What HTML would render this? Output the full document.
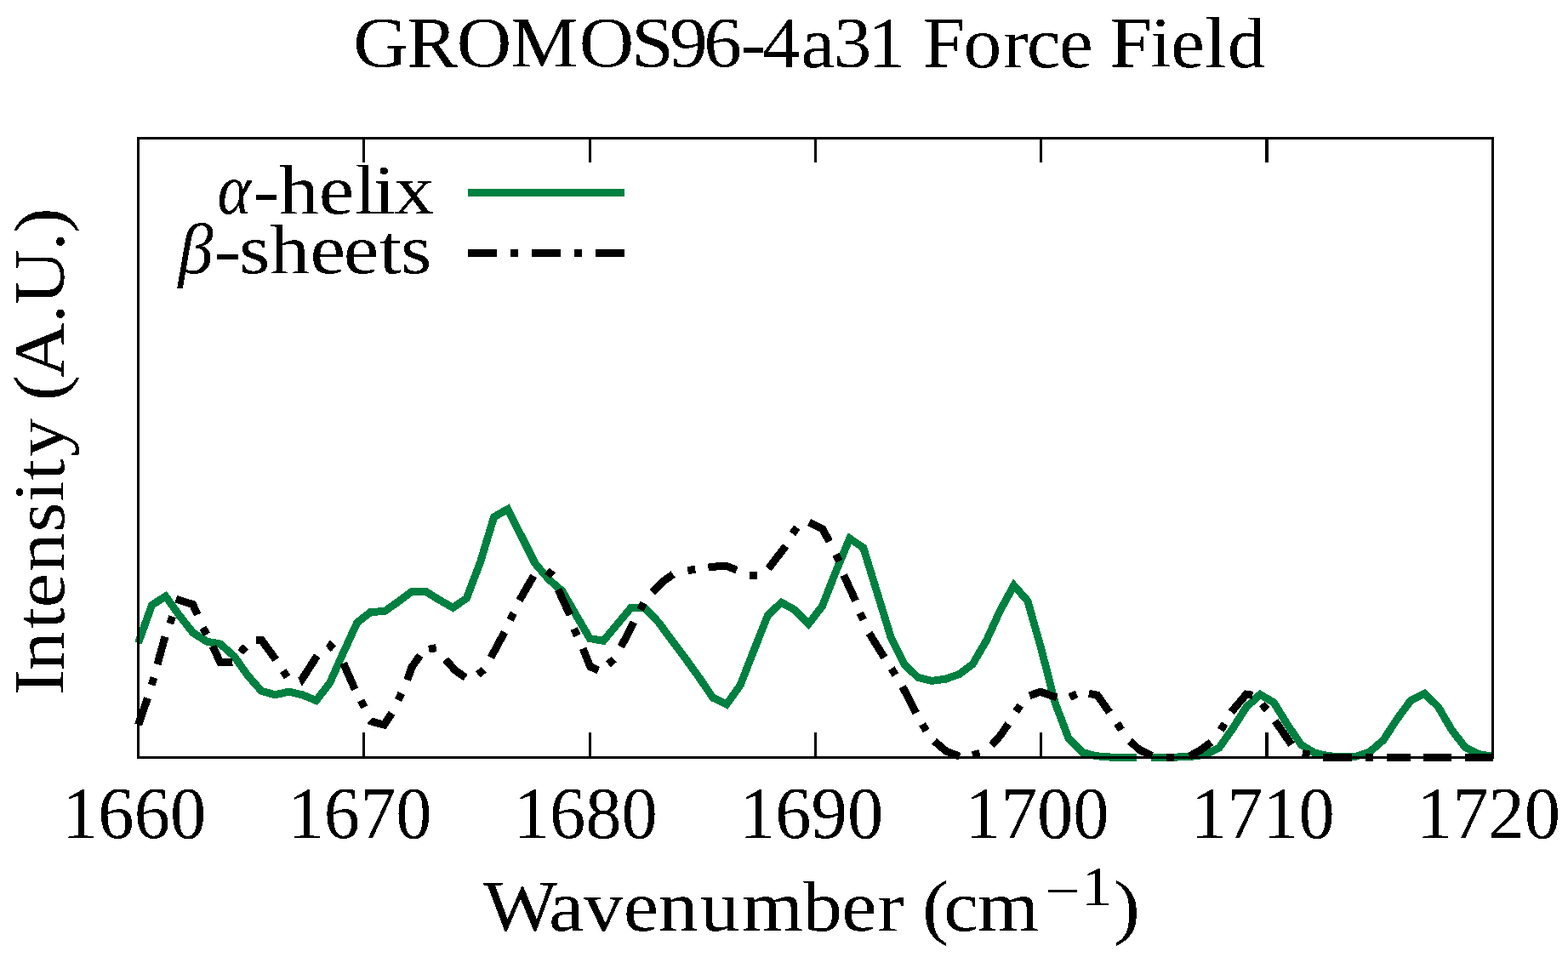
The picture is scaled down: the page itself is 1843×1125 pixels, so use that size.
<!DOCTYPE html>
<html lang="en"><head><meta charset="utf-8"><title>GROMOS96-4a31 Force Field</title>
<style>
html,body{margin:0;padding:0;background:#fff;}
body{width:1843px;height:1125px;}
svg{display:block;}
text{font-family:"Liberation Serif","DejaVu Serif",serif;fill:#000;font-kerning:none;white-space:pre;}
</style></head><body>
<svg width="1843" height="1125" viewBox="0 0 1843 1125">
<defs><filter id="crisp" x="-5%" y="-20%" width="110%" height="140%" color-interpolation-filters="sRGB"><feComponentTransfer><feFuncA type="discrete" tableValues="0 1"/></feComponentTransfer></filter></defs>
<rect x="0" y="0" width="1843" height="1125" fill="#fff"/>
<g id="title" filter="url(#crisp)">
<text transform="scale(1.0519,1)" x="394.84 454.77 510.20 570.48 647.19 705.71 748.27 786.46 827.39 851.73 895.11 931.38 969.79 1012.29 1031.21 1076.59 1120.86 1147.26 1183.51 1221.24 1239.89 1285.60 1308.33 1346.52 1371.67" y="79.50" font-size="85.00">GROMOS96-4a31 Force Field</text>
</g>
<g id="curves" fill="none" shape-rendering="crispEdges" stroke-linecap="butt" stroke-linejoin="miter" stroke-miterlimit="10">
<polyline points="162.5,755.9 178.6,711.2 194.7,701.0 210.7,723.4 226.8,743.8 242.9,754.1 259.0,757.1 275.1,771.4 291.1,794.0 307.2,812.3 323.3,816.8 339.4,813.2 355.5,816.8 371.6,823.6 387.6,802.9 403.7,766.9 419.8,731.9 435.9,719.3 452.0,718.7 468.0,707.4 484.1,695.2 500.2,695.2 516.3,705.2 532.4,714.4 548.4,703.3 564.5,661.0 580.6,607.7 596.7,598.6 612.8,630.1 628.8,662.1 644.9,681.0 661.0,695.0 677.1,723.0 693.2,750.5 709.2,753.4 725.3,734.0 741.4,714.8 757.5,714.6 773.6,731.0 789.7,752.8 805.7,774.1 821.8,796.5 837.9,820.2 854.0,828.0 870.1,805.5 886.1,764.5 902.2,724.0 918.3,708.2 934.4,717.1 950.5,733.3 966.5,712.5 982.6,671.5 998.7,633.0 1014.8,644.0 1030.9,696.3 1046.9,748.5 1063.0,781.0 1079.1,796.5 1095.2,800.4 1111.3,798.2 1127.3,792.7 1143.4,780.5 1159.5,752.8 1175.6,717.6 1191.7,688.2 1207.8,706.3 1223.8,762.6 1239.9,825.5 1256.0,868.0 1272.1,884.4 1288.2,888.7 1304.2,890.0 1320.3,890.5 1336.4,890.5" stroke="#008040" stroke-width="9"/>
<polyline points="1352.5,890.5 1368.6,890.5 1384.6,890.0 1400.7,889.3 1416.8,887.2 1432.9,879.1 1449.0,856.3 1465.0,831.1 1481.1,816.4 1497.2,825.8 1513.3,852.0 1529.4,875.5 1545.4,885.1 1561.5,888.7 1577.6,890.0 1593.7,889.3 1609.8,884.0 1625.9,870.1 1641.9,845.6 1658.0,823.6 1674.1,815.3 1690.2,830.6 1706.3,858.0 1722.3,878.7 1738.4,886.6 1754.5,889.3" stroke="#008040" stroke-width="9"/>
<g stroke="#000" stroke-width="9">
<polyline points="162.6,852.1 173.5,820.6"/>
<polyline points="185.0,781.0 194.0,748.4"/>
<polyline points="206.8,704.2 226.7,710.6 232.2,722.6"/>
<polyline points="250.0,759.7 258.8,778.5 273.5,778.4"/>
<polyline points="301.0,752.6 307.6,752.6 324.2,775.5"/>
<polyline points="354.2,794.5 355.6,797.5 372.8,770.8"/>
<polyline points="403.6,779.5 417.2,810.5"/>
<polyline points="434.9,846.6 436.2,848.0 451.6,852.0 460.6,838.3"/>
<polyline points="478.8,799.3 483.9,784.4 493.7,770.5"/>
<polyline points="523.7,775.2 535.0,788.0 547.2,796.5"/>
<polyline points="577.0,773.0 593.0,743.2"/>
<polyline points="610.5,705.8 627.2,677.0"/>
<polyline points="656.0,693.0 669.9,722.9"/>
<polyline points="685.2,762.4 693.7,783.7 703.3,788.0"/>
<polyline points="730.0,760.3 744.9,731.5"/>
<polyline points="766.7,696.2 779.1,683.7 791.2,675.1"/>
<polyline points="832.4,667.1 843.3,665.8 855.0,665.8 865.9,670.2"/>
<polyline points="903.2,668.5 923.5,641.9"/>
<polyline points="951.2,614.1 967.0,622.0 974.7,636.5"/>
<polyline points="991.7,676.0 1005.6,706.3"/>
<polyline points="1021.6,744.3 1039.5,773.1"/>
<polyline points="1060.8,807.2 1076.8,838.1"/>
<polyline points="1098.1,871.2 1112.0,883.0 1128.0,889.3"/>
<polyline points="1165.6,876.0 1175.5,865.0 1185.2,851.0"/>
<polyline points="1210.1,817.9 1222.9,813.2 1242.1,820.0"/>
<polyline points="1279.9,815.2 1289.8,817.2 1304.0,837.3"/>
<polyline points="1328.0,871.1 1339.4,881.5 1354.0,888.6"/>
<polyline points="1398.0,889.0 1411.5,881.5 1423.5,872.5"/>
<polyline points="1447.2,837.0 1464.8,816.2 1472.4,817.3"/>
<polyline points="1498.7,847.5 1518.0,875.3"/>
<polyline points="1555.0,890.5 1589.0,890.5"/>
<polyline points="1630.1,890.5 1657.9,890.5"/>
<polyline points="1673.2,890.5 1705.9,890.5"/>
<polyline points="1722.0,890.5 1754.9,890.5"/>
<polyline points="386.5,762.5 388.6,759.4 391.8,762.9"/>
<line x1="178.2" y1="805.2" x2="181.0" y2="796.6"/>
<line x1="199.8" y1="733.2" x2="202.6" y2="724.6"/>
<line x1="238.6" y1="737.9" x2="242.8" y2="745.9"/>
<line x1="282.7" y1="766.9" x2="288.5" y2="760.1"/>
<line x1="332.7" y1="788.6" x2="337.7" y2="796.0"/>
<line x1="424.3" y1="823.5" x2="428.3" y2="831.5"/>
<line x1="468.2" y1="823.1" x2="471.8" y2="814.9"/>
<line x1="504.0" y1="763.2" x2="512.8" y2="761.6"/>
<line x1="561.9" y1="793.0" x2="568.7" y2="787.2"/>
<line x1="599.5" y1="728.6" x2="603.7" y2="720.6"/>
<line x1="643.0" y1="671.0" x2="649.8" y2="676.8"/>
<line x1="674.7" y1="739.1" x2="678.3" y2="747.3"/>
<line x1="714.9" y1="780.9" x2="721.7" y2="775.1"/>
<line x1="752.6" y1="716.8" x2="756.8" y2="708.8"/>
<line x1="808.3" y1="670.6" x2="817.3" y2="669.4"/>
<line x1="880.9" y1="676.5" x2="889.9" y2="676.5"/>
<line x1="931.5" y1="627.4" x2="936.7" y2="620.0"/>
<line x1="982.3" y1="651.7" x2="986.3" y2="659.7"/>
<line x1="1011.0" y1="720.7" x2="1015.0" y2="728.7"/>
<line x1="1047.7" y1="785.9" x2="1052.5" y2="793.5"/>
<line x1="1084.2" y1="851.3" x2="1088.7" y2="859.1"/>
<line x1="1142.9" y1="887.8" x2="1151.5" y2="885.4"/>
<line x1="1194.1" y1="836.5" x2="1199.3" y2="829.1"/>
<line x1="1257.4" y1="819.5" x2="1265.6" y2="815.7"/>
<line x1="1313.1" y1="850.3" x2="1317.9" y2="857.9"/>
<line x1="1371.4" y1="890.0" x2="1380.4" y2="890.0"/>
<line x1="1434.8" y1="858.3" x2="1439.6" y2="850.7"/>
<line x1="1483.3" y1="827.6" x2="1489.1" y2="834.4"/>
<line x1="1530.8" y1="885.5" x2="1539.6" y2="887.3"/>
<line x1="1604.9" y1="890.5" x2="1613.9" y2="890.5"/>
</g></g>
<g id="legend" shape-rendering="crispEdges">
<rect x="550" y="222" width="184" height="9" fill="#008040"/>
<rect x="550" y="293" width="34" height="9" fill="#000"/>
<rect x="600" y="293" width="9" height="9" fill="#000"/>
<rect x="625" y="293" width="34" height="9" fill="#000"/>
<rect x="675" y="293" width="9" height="9" fill="#000"/>
<rect x="700" y="293" width="34" height="9" fill="#000"/>
</g>
<g id="legendtext" filter="url(#crisp)">
<text transform="scale(1.1200,1)" x="228.17 265.79 292.88 334.50 372.02 392.07 413.60" y="250.90" font-size="83.50"><tspan font-style="italic" font-size="84.00" textLength="35.35" lengthAdjust="spacingAndGlyphs">α</tspan>-helix</text>
<text transform="scale(1.1200,1)" x="187.08 224.94 250.87 283.20 325.53 360.48 397.97 420.65" y="321.00" font-size="83.50"><tspan font-style="italic" font-size="84.00" textLength="36.60" lengthAdjust="spacingAndGlyphs">β</tspan>-sheets</text>
</g>
<g id="frame" shape-rendering="crispEdges" fill="#000">
<rect x="161" y="161" width="1595" height="3"/>
<rect x="161" y="889" width="1595" height="3"/>
<rect x="161" y="161" width="3" height="731"/>
<rect x="1753" y="161" width="3" height="731"/>
<rect x="426" y="162" width="3" height="29"/>
<rect x="426" y="861" width="3" height="30"/>
<rect x="692" y="162" width="3" height="29"/>
<rect x="692" y="861" width="3" height="30"/>
<rect x="957" y="162" width="3" height="29"/>
<rect x="957" y="861" width="3" height="30"/>
<rect x="1222" y="162" width="3" height="29"/>
<rect x="1222" y="861" width="3" height="30"/>
<rect x="1487" y="162" width="4" height="29"/>
<rect x="1487" y="861" width="4" height="30"/>
</g>
<g id="ticklabels" filter="url(#crisp)">
<text x="73.07" y="985.30" font-size="86.00" textLength="169.15" lengthAdjust="spacingAndGlyphs">1660</text>
<text x="338.39" y="985.30" font-size="86.00" textLength="169.15" lengthAdjust="spacingAndGlyphs">1670</text>
<text x="603.71" y="985.30" font-size="86.00" textLength="169.15" lengthAdjust="spacingAndGlyphs">1680</text>
<text x="869.03" y="985.30" font-size="86.00" textLength="169.15" lengthAdjust="spacingAndGlyphs">1690</text>
<text x="1134.35" y="985.30" font-size="86.00" textLength="169.15" lengthAdjust="spacingAndGlyphs">1700</text>
<text x="1399.67" y="985.30" font-size="86.00" textLength="169.15" lengthAdjust="spacingAndGlyphs">1710</text>
<text x="1664.99" y="985.30" font-size="86.00" textLength="169.15" lengthAdjust="spacingAndGlyphs">1720</text>
</g>
<g id="xlabel" filter="url(#crisp)">
<text transform="scale(1.1000,1)" x="516.21 586.34 623.74 666.15 703.54 748.18 792.46 857.76 899.33 937.77 965.91 985.53 1008.30 1044.32 1116.90 1155.58 1190.06" y="1094.20 1094.20 1094.20 1094.20 1094.20 1094.20 1094.20 1094.20 1094.20 1094.20 1094.20 1094.20 1094.20 1094.20 1068.70 1064.20 1094.20" font-size="84.50">Wavenumber (cm<tspan font-size="66.00">−1</tspan>)</text>
</g>
<g id="ylabel" filter="url(#crisp)"><g transform="translate(74.60,813.70) rotate(-90)">
<text transform="scale(1.0620,1)" x="-3.08 24.46 70.37 93.61 133.41 177.32 210.09 234.30 260.55 303.05 322.35 347.59 408.39 428.53 488.33 507.95" y="0.00" font-size="85.00">Intensity (A.U.)</text>
</g></g>
</svg></body></html>
